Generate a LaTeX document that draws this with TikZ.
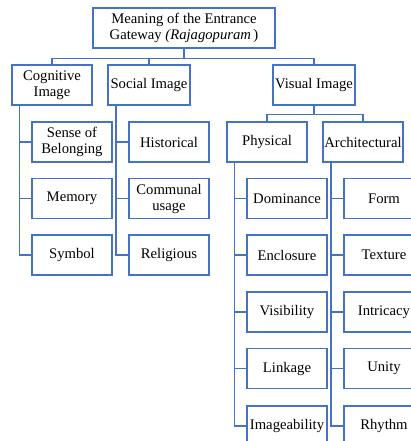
\documentclass[tikz,border=0pt]{standalone}
\usepackage{fontspec}
\setmainfont{Liberation Serif}
\definecolor{linkblue}{RGB}{68,114,196}
\tikzset{every picture/.style={line width=0.75pt}}
\tikzset{
  box/.style={draw=linkblue, line width=1pt, fill=white, align=center, inner sep=1pt,
    minimum width=60pt, minimum height=30pt, font=\fontsize{11}{12}\selectfont},
  link/.style={draw=linkblue, line width=1pt}
}
\begin{document}
\begin{tikzpicture}[x=0.75pt,y=0.75pt,yscale=-1,xscale=1]
\useasboundingbox (0,0) rectangle (410,441);

%Root
\node [box, minimum width=136.5pt] (meaning) at (184,28) {Meaning of the Entrance\\Gateway \textit{(Rajagopuram}\,)};

%First level
\node [box] (cognitive) at (52,85) {Cognitive\\Image};
\node [box, minimum width=61.5pt] (social) at (149,85) {Social Image};
\node [box, minimum width=61.5pt] (visual) at (314,85) {Visual Image};

%Cognitive image
\node [box] (belonging) at (72,142) {Sense of\\Belonging};
\node [box] (memory) at (72,198.5) {Memory};
\node [box] (symbol) at (72,255) {Symbol};

%Social image
\node [box] (historical) at (169,142) {Historical};
\node [box] (communal) at (169,198.5) {Communal\\usage};
\node [box] (religious) at (169,255) {Religious};

%Visual image
\node [box] (physical) at (267,142) {Physical};
\node [box] (architectural) at (363,142) {Architectural};

%Physical
\node [box] (dominance) at (287,198.5) {Dominance};
\node [box] (enclosure) at (287,255) {Enclosure};
\node [box] (visibility) at (287,312) {Visibility};
\node [box] (linkage) at (287,368.5) {Linkage};
\node [box] (imageability) at (287,426) {Imageability};

%Architectural
\node [box] (form) at (384,198.5) {Form};
\node [box] (texture) at (384,255) {Texture};
\node [box] (intricacy) at (384,312) {Intricacy};
\node [box] (unity) at (384,368.5) {Unity};
\node [box] (rhythm) at (384,426) {Rhythm};

%Connectors
\foreach \c in {cognitive,social,visual}
  \draw [link] (meaning.south) -- ++(0,10) -| (\c.north);
\foreach \c in {physical,architectural}
  \draw [link] (visual.south) -- ++(0,9) -| (\c.north);
\foreach \c in {belonging,memory,symbol}
  \draw [link] ([xshift=6pt]cognitive.south west) |- (\c.west);
\foreach \c in {historical,communal,religious}
  \draw [link] ([xshift=6.5pt]social.south west) |- (\c.west);
\foreach \c in {dominance,enclosure,visibility,linkage,imageability}
  \draw [link] ([xshift=6pt]physical.south west) |- (\c.west);
\foreach \c in {form,texture,intricacy,unity,rhythm}
  \draw [link] ([xshift=6.5pt]architectural.south west) |- (\c.west);

\end{tikzpicture}
\end{document}
